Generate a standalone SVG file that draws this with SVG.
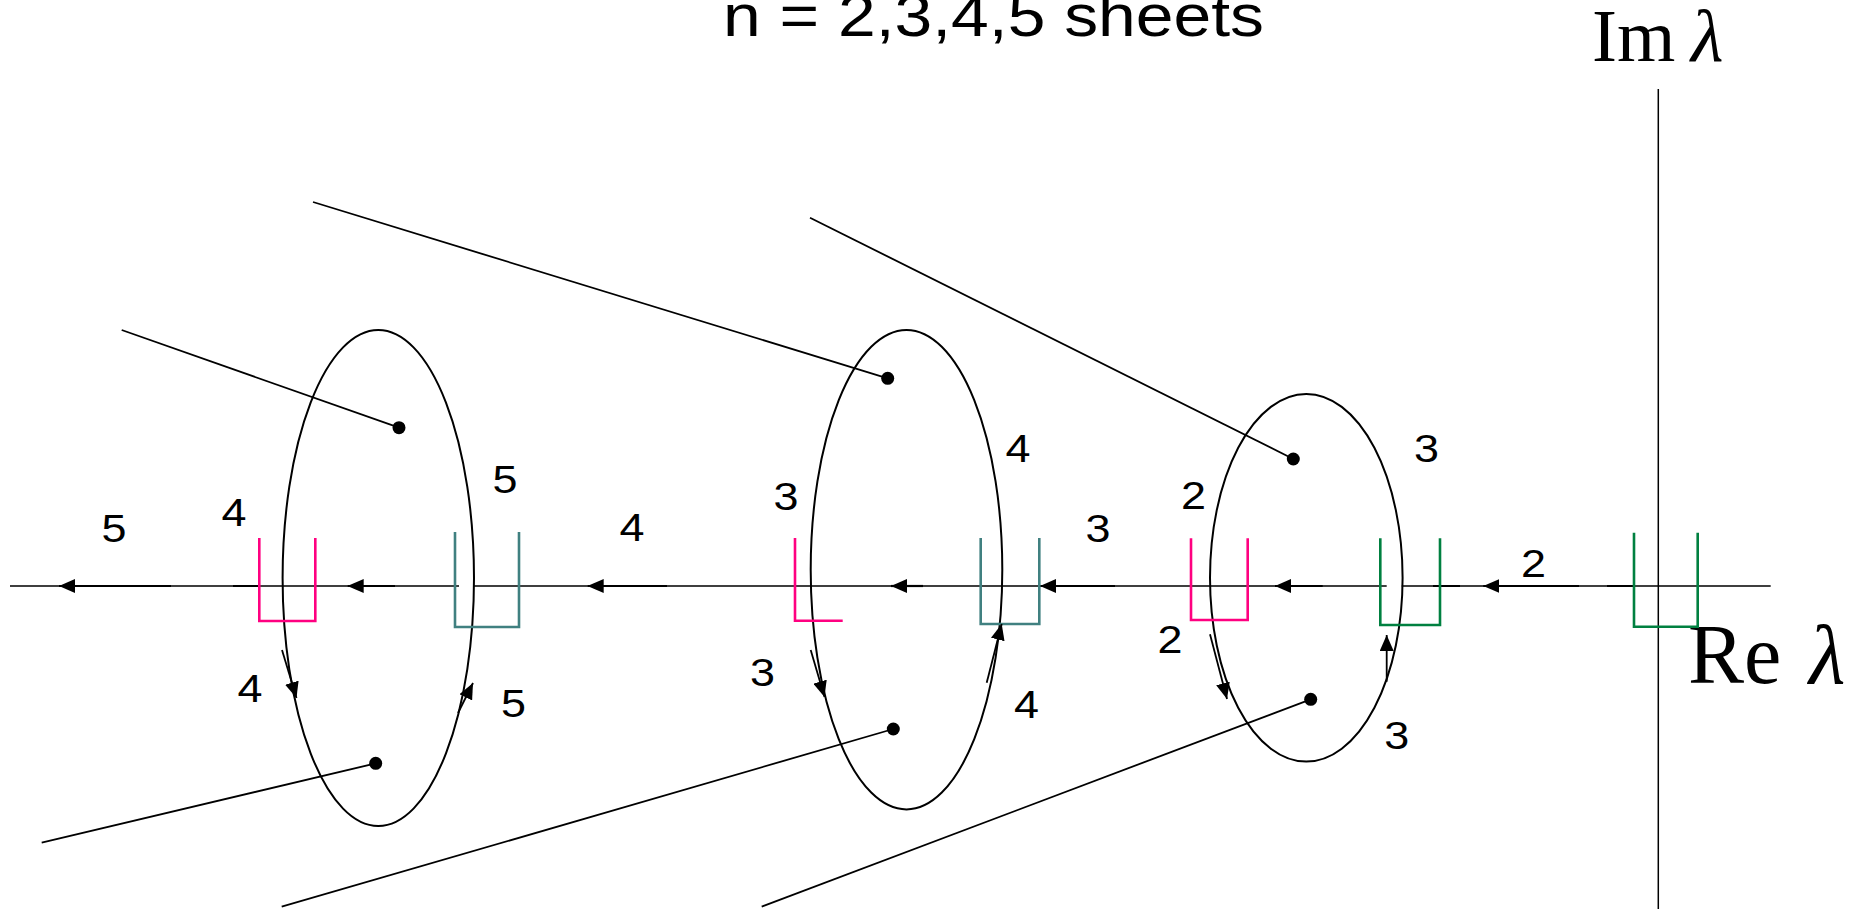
<svg xmlns="http://www.w3.org/2000/svg" width="1852" height="909" viewBox="0 0 1852 909">
<style>
.ax{stroke:#000;stroke-width:1.5;fill:none}
.axs{stroke:#000;stroke-width:2.2;fill:none}
.el{stroke:#000;stroke-width:2;fill:none}
.ln{stroke:#000;stroke-width:1.8;fill:none}
.arr{stroke:#000;stroke-width:1.8;fill:none;marker-end:url(#ah)}
.pk{stroke:#ff0080;stroke-width:2.6;fill:none}
.tl{stroke:#408080;stroke-width:2.6;fill:none}
.gr{stroke:#008040;stroke-width:2.6;fill:none}
.lb{font-family:"Liberation Sans",Arial,sans-serif;font-size:38px;fill:#000;text-anchor:middle}
.tm{font-family:"Liberation Serif","Times New Roman",serif;fill:#000}
</style>
<defs>
<marker id="ah" viewBox="0 0 16 14" refX="16" refY="7" markerWidth="16" markerHeight="14" markerUnits="userSpaceOnUse" orient="auto"><path d="M0,0 L16,7 L0,14 z" fill="#000"/></marker>
</defs>
<rect width="1852" height="909" fill="#fff"/>
<g id="title">
<text x="723" y="36" font-family="'Liberation Sans',Arial,sans-serif" font-size="60" textLength="541" lengthAdjust="spacingAndGlyphs">n = 2,3,4,5 sheets</text>
</g>
<g id="axes">
<path class="ax" d="M10,586 H459 M474,586 H1386.7 M1401.7,586 H1770.7"/>
<path class="ax" d="M1658.3,89 V909"/>
<path class="axs" d="M233,586 H260 M1433,586 H1460 M1607,586 H1633"/>
<text class="tm" x="1592" y="61" font-size="75">Im<tspan x="1691" font-style="italic">λ</tspan></text>
<text class="tm" x="1688" y="683" font-size="84">Re<tspan x="1809" font-style="italic">λ</tspan></text>
</g>
<g id="connectors">
<path class="arr" style="stroke-width:2.2" d="M171,586 H59"/>
<path class="arr" style="stroke-width:2.2" d="M395,586 H347.7"/>
<path class="arr" style="stroke-width:2.2" d="M667,586 H587.7"/>
<path class="arr" style="stroke-width:2.2" d="M923,586 H891"/>
<path class="arr" style="stroke-width:2.2" d="M1115,586 H1040"/>
<path class="arr" style="stroke-width:2.2" d="M1322.7,586 H1275"/>
<path class="arr" style="stroke-width:2.2" d="M1579,586 H1483.3"/>
<line class="ln" x1="121.7" y1="330" x2="399" y2="427.7"/>
<line class="ln" x1="313" y1="202" x2="887.7" y2="378.3"/>
<line class="ln" x1="810" y1="217.7" x2="1293.3" y2="459"/>
<line class="ln" x1="41.7" y1="842.7" x2="375.7" y2="763.3"/>
<line class="ln" x1="281.7" y1="906.7" x2="893.3" y2="729"/>
<line class="ln" x1="761.7" y1="906.7" x2="1310.7" y2="699.3"/>
</g>
<g id="sheet5">
<ellipse class="el" cx="378.3" cy="578" rx="95.7" ry="248"/>
<circle cx="399" cy="427.7" r="6.5"/>
<circle cx="375.7" cy="763.3" r="6.5"/>
<path class="pk" d="M259.3,538 V621 H315.3 V538"/>
<path class="tl" d="M455,532 V627 H519 V532"/>
<path class="arr" d="M282,650 L296.5,698"/>
<path class="arr" d="M458,713 L473,683"/>
<text class="lb" x="114" y="541.7" textLength="25" lengthAdjust="spacingAndGlyphs">5</text>
<text class="lb" x="234" y="526" textLength="25" lengthAdjust="spacingAndGlyphs">4</text>
<text class="lb" x="505" y="493.3" textLength="25" lengthAdjust="spacingAndGlyphs">5</text>
<text class="lb" x="250" y="702" textLength="25" lengthAdjust="spacingAndGlyphs">4</text>
<text class="lb" x="513.5" y="717" textLength="25" lengthAdjust="spacingAndGlyphs">5</text>
</g>
<g id="sheet4">
<ellipse class="el" cx="906.5" cy="569.7" rx="95.8" ry="239.7"/>
<circle cx="887.7" cy="378.3" r="6.5"/>
<circle cx="893.3" cy="729" r="6.5"/>
<path class="pk" d="M795,538 V620.7 H842.7"/>
<path class="tl" d="M980.7,538 V624 H1039.3 V538"/>
<path class="arr" d="M810.7,650 L824.5,697"/>
<path class="arr" d="M986.7,682.7 L1001.7,624"/>
<text class="lb" x="632" y="541" textLength="25" lengthAdjust="spacingAndGlyphs">4</text>
<text class="lb" x="786" y="510" textLength="25" lengthAdjust="spacingAndGlyphs">3</text>
<text class="lb" x="1018" y="461.7" textLength="25" lengthAdjust="spacingAndGlyphs">4</text>
<text class="lb" x="762.5" y="685.7" textLength="25" lengthAdjust="spacingAndGlyphs">3</text>
<text class="lb" x="1026.5" y="717.5" textLength="25" lengthAdjust="spacingAndGlyphs">4</text>
</g>
<g id="sheet3">
<ellipse class="el" cx="1306.3" cy="577.8" rx="96.3" ry="183.8"/>
<circle cx="1293.3" cy="459" r="6.5"/>
<circle cx="1310.7" cy="699.3" r="6.5"/>
<path class="pk" d="M1191,538.3 V620 H1247.7 V538.3"/>
<path class="gr" d="M1380.3,538.3 V625 H1440 V538.3"/>
<path class="arr" d="M1210,634.3 L1227,699"/>
<path class="arr" d="M1386.7,681.7 V635"/>
<text class="lb" x="1098" y="541.7" textLength="25" lengthAdjust="spacingAndGlyphs">3</text>
<text class="lb" x="1193.4" y="509.3" textLength="25" lengthAdjust="spacingAndGlyphs">2</text>
<text class="lb" x="1170" y="653.3" textLength="25" lengthAdjust="spacingAndGlyphs">2</text>
<text class="lb" x="1426.5" y="461.7" textLength="25" lengthAdjust="spacingAndGlyphs">3</text>
<text class="lb" x="1396.7" y="749.3" textLength="25" lengthAdjust="spacingAndGlyphs">3</text>
</g>
<g id="sheet2">
<path class="gr" d="M1634,532.7 V626.7 H1697.7 V532.7"/>
<text class="lb" x="1533.4" y="576.7" textLength="25" lengthAdjust="spacingAndGlyphs">2</text>
</g>
</svg>
